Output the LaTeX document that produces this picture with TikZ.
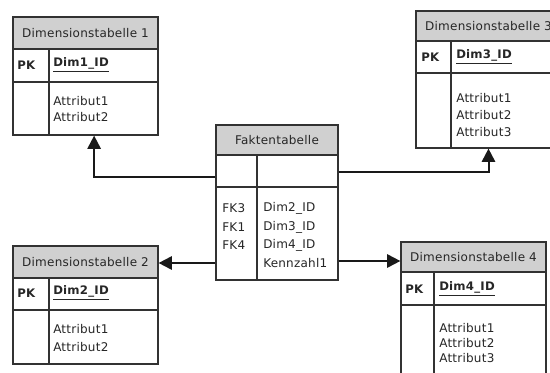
\documentclass[tikz,border=0pt]{standalone}
\usepackage{fontspec}
\setmainfont[LetterSpace=2]{DejaVu Sans}
\usetikzlibrary{arrows.meta,fit,calc}
\definecolor{hdrcol}{RGB}{208,208,208}
\definecolor{bordercol}{RGB}{50,50,50}
\begin{document}
\begin{tikzpicture}[x=0.75pt,y=-0.75pt,
  box/.style={draw=bordercol, line width=0.9pt, inner sep=0pt},
  grid/.style={draw=bordercol, line width=0.9pt},
  hdr/.style={fill=hdrcol},
  txt/.style={inner sep=0pt, text=black!85, font=\fontsize{9}{11}\selectfont},
  lt/.style={txt, anchor=west},
  pk/.style={txt, anchor=west, font=\fontsize{8.8}{11}\selectfont\bfseries},
  conn/.style={draw=black!90, line width=1.5pt, -{Triangle[length=10pt,width=10pt]}}]
\useasboundingbox (0,0) rectangle (550,372);
\fill[white] (0,0) rectangle (550,372);
\clip (0,0) rectangle (550,372);

% Dimensionstabelle 1
\fill[hdr] (13,17) rectangle (158,49);
\node[box, fit={(13,17)(158,135)}] (d1) {};
\draw[grid] (13,49) -- (158,49) (13,82) -- (158,82) (49,49) -- (49,135);
\node[txt] (d1h) at (85.5,33) {Dimensionstabelle 1};
\node[pk] (d1pk) at (17,65) {PK};
\node[pk] (d1id) at (53,65) {\underline{Dim1\_ID}};
\node[lt] (d1a1) at (53,101) {Attribut1};
\node[lt] (d1a2) at (53,117) {Attribut2};

% Dimensionstabelle 2
\fill[hdr] (13,246) rectangle (158,278);
\node[box, fit={(13,246)(158,364)}] (d2) {};
\draw[grid] (13,278) -- (158,278) (13,310) -- (158,310) (49,278) -- (49,364);
\node[txt] (d2h) at (85.5,262) {Dimensionstabelle 2};
\node[pk] (d2pk) at (17,293) {PK};
\node[pk] (d2id) at (53,293) {\underline{Dim2\_ID}};
\node[lt] (d2a1) at (53,329) {Attribut1};
\node[lt] (d2a2) at (53,347) {Attribut2};

% Dimensionstabelle 3
\fill[hdr] (416,11) rectangle (561,41);
\node[box, fit={(416,11)(561,148)}] (d3) {};
\draw[grid] (416,41) -- (561,41) (416,73) -- (561,73) (451,41) -- (451,148);
\node[txt] (d3h) at (488.5,26) {Dimensionstabelle 3};
\node[pk] (d3pk) at (421,57) {PK};
\node[pk] (d3id) at (456,57) {\underline{Dim3\_ID}};
\node[lt] (d3a1) at (456,98) {Attribut1};
\node[lt] (d3a2) at (456,115) {Attribut2};
\node[lt] (d3a3) at (456,132) {Attribut3};

% Dimensionstabelle 4
\fill[hdr] (401,242) rectangle (546,272);
\node[box, fit={(401,242)(546,400)}] (d4) {};
\draw[grid] (401,272) -- (546,272) (401,305) -- (546,305) (434,272) -- (434,400);
\node[txt] (d4h) at (473.5,257) {Dimensionstabelle 4};
\node[pk] (d4pk) at (405,289) {PK};
\node[pk] (d4id) at (439,289) {\underline{Dim4\_ID}};
\node[lt] (d4a1) at (439,328) {Attribut1};
\node[lt] (d4a2) at (439,343) {Attribut2};
\node[lt] (d4a3) at (439,358) {Attribut3};

% Faktentabelle
\fill[hdr] (216,125) rectangle (338,155);
\node[box, fit={(216,125)(338,280)}] (fact) {};
\draw[grid] (216,155) -- (338,155) (216,187) -- (338,187) (257,155) -- (257,280);
\node[txt] (fh) at (277,140) {Faktentabelle};
\node[lt] (fk3) at (222,208) {FK3};
\node[lt] (fk1) at (222,227) {FK1};
\node[lt] (fk4) at (222,245) {FK4};
\node[lt] (f1) at (263,208) {Dim2\_ID};
\node[lt] (f2) at (263,227) {Dim3\_ID};
\node[lt] (f3) at (263,245) {Dim4\_ID};
\node[lt] (f4) at (263,263) {Kennzahl1};

% Verbindungen
\coordinate (d1in) at ($(d1.south west)!0.559!(d1.south east)$);
\draw[conn] (fact.west |- 0,177) -| (d1in);
\draw[conn] (fact.east |- 0,172) -| (d3.south);
\draw[conn] (fact.west |- 0,263) -- (d2.east |- 0,263);
\draw[conn] (fact.east |- 0,261) -- (d4.west |- 0,261);
\end{tikzpicture}
\end{document}
